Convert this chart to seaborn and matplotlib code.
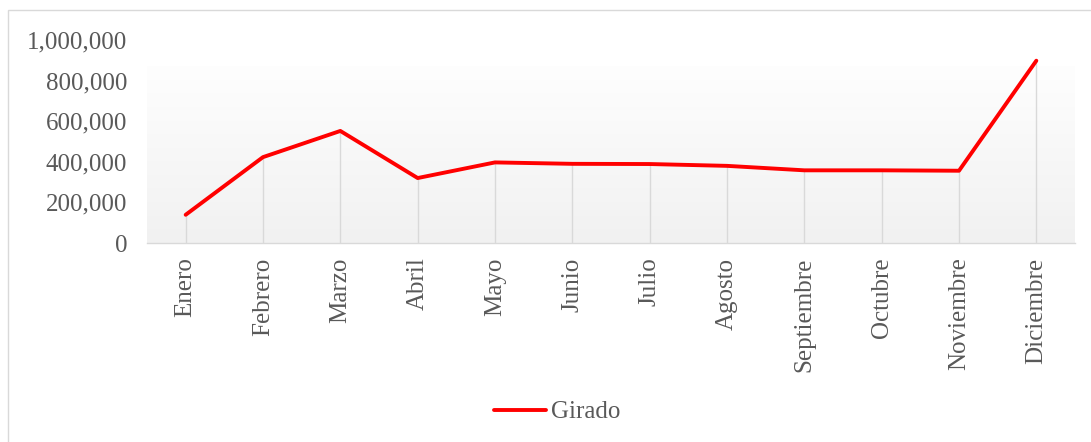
import numpy as np
import pandas as pd
import matplotlib
matplotlib.use("Agg")
import matplotlib.pyplot as plt
import seaborn as sns
from matplotlib.patches import Rectangle

meses = ["Enero", "Febrero", "Marzo", "Abril", "Mayo", "Junio", "Julio",
         "Agosto", "Septiembre", "Octubre", "Noviembre", "Diciembre"]
girado = [139000, 423000, 552000, 320000, 397000, 390000, 389000,
          380000, 358000, 358000, 356000, 898000]
yticks = [0, 200000, 400000, 600000, 800000, 1000000]

sns.set_theme(style="white")
plt.rcParams["font.family"] = ["Liberation Serif", "DejaVu Serif"]
txt = "#595959"
grid = "#d9d9d9"

df = pd.DataFrame({"mes": meses, "pos": np.arange(len(meses)), "girado": girado})

fig = plt.figure(figsize=(10.91, 4.42), dpi=100)
ax = fig.add_axes([147/1091, 1-243/442, (1075-147)/1091, (243-40)/442])

# gradient background
grad = np.linspace(0, 1, 256).reshape(-1, 1)
cmap = matplotlib.colors.LinearSegmentedColormap.from_list("g", ["#f1f1f1", "#fefefe"])
ax.imshow(grad, extent=[-0.5, 11.5, 0, 870000], origin="lower", aspect="auto",
          cmap=cmap, zorder=0)

ax.vlines(df["pos"], 0, df["girado"], color=grid, lw=1.0, zorder=1)
sns.lineplot(data=df, x="pos", y="girado", ax=ax, color="#ff0000", lw=2.8,
             label="Girado", zorder=3, legend=False)

ax.set_xlim(-0.5, 11.5)
ax.set_ylim(0, 1000000)
ax.set_yticks(yticks)
ax.set_yticklabels([f"{v:,}" for v in yticks])
ax.set_xticks(df["pos"])
ax.set_xticklabels(meses, rotation=90)
ax.tick_params(axis="both", length=0, labelsize=18, labelcolor=txt)
ax.tick_params(axis="y", pad=14.4)
ax.tick_params(axis="x", pad=10.5)
ax.set_xlabel("")
ax.set_ylabel("")
for s in ["top", "right", "left"]:
    ax.spines[s].set_visible(False)
ax.spines["bottom"].set_color(grid)
ax.spines["bottom"].set_linewidth(1.0)
ax.set_facecolor("white")

handles, labels = ax.get_lines()[:1], ["Girado"]
leg = fig.legend(handles, labels, loc="center", bbox_to_anchor=(557/1091, 1-412/442),
                 frameon=False, fontsize=18, handlelength=2.1, handletextpad=0.2)
for t in leg.get_texts():
    t.set_color(txt)

fig.patches.append(Rectangle((8/1091, -0.05), 1.1, 1.05 - 10/442, transform=fig.transFigure,
                             fill=False, edgecolor=grid, lw=1.0))

fig.savefig("out.png", dpi=100)
